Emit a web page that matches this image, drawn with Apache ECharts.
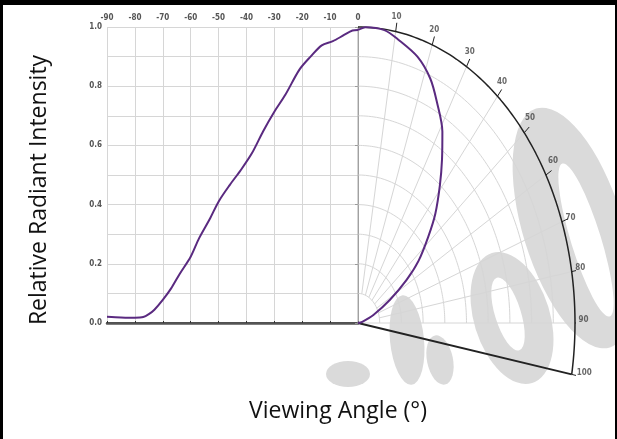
<!DOCTYPE html>
<html><head><meta charset="utf-8">
<script src="https://cdn.jsdelivr.net/npm/echarts@6/dist/echarts.min.js"></script>
<style>html,body{margin:0;padding:0;background:#fff}#c{width:617px;height:439px}</style>
</head><body><div id="c"></div>
<script>
// ---- data ----
const cartAngles = [-90, -85, -80, -77, -75, -73, -70, -67, -64, -60, -57, -53, -50, -46, -42, -38, -34, -30, -26, -21, -17, -13, -9, -5, -2, 0];
const cartValues = [0.021, 0.019, 0.018, 0.020, 0.030, 0.045, 0.078, 0.117, 0.165, 0.224, 0.286, 0.354, 0.410, 0.466, 0.517, 0.574, 0.648, 0.714, 0.772, 0.856, 0.900, 0.938, 0.952, 0.973, 0.988, 0.990];
const polarAngles = [0, 2, 7, 11, 17, 22, 26, 31, 35, 39, 44, 48, 53, 57, 62, 69, 78, 90];
const polarValues = [0.99, 1.0, 0.997, 0.975, 0.94, 0.89, 0.83, 0.755, 0.675, 0.60, 0.513, 0.436, 0.35, 0.267, 0.167, 0.076, 0.02, 0];
const xTickValues = [-90, -80, -70, -60, -50, -40, -30, -20, -10, 0];
const yTickValues = [0.0, 0.2, 0.4, 0.6, 0.8, 1.0];
const angleTickLabels = [10, 20, 30, 40, 50, 60, 70, 80, 90, 100];
const ringRadii = [0.1, 0.2, 0.3, 0.4, 0.5, 0.6, 0.7, 0.8, 0.9];
const spokeAngles = [10, 20, 30, 40, 50, 60, 70, 80];

const D = Math.PI / 180;
function pol(a, r) { return [r * Math.sin(a * D), r * Math.cos(a * D)]; }
function arc(r, a0, a1) { const p = []; for (let a = a0; a <= a1 + 1e-9; a += 1) p.push(pol(a, r)); return p; }

const series = [];
function seg(data, color, width, z) {
  series.push({ type: 'line', xAxisIndex: 2, yAxisIndex: 1, data: data, symbol: 'none', silent: true, clip: false,
    lineStyle: { color: color, width: width }, z: z, animation: false });
}
const GRID = '#d6d6d6';
ringRadii.forEach(r => seg(arc(r, 0, 90), GRID, 1, 1));
spokeAngles.forEach(a => seg([pol(a, 0.1), pol(a, 1)], GRID, 1, 1));
seg([pol(90, 0), pol(90, 1)], GRID, 1, 1);
seg([pol(0, 0), pol(0, 1)], '#aaaaaa', 1, 1);
seg(arc(1, 0, 100), '#222', 1.5, 3);
seg([pol(100, 0), pol(100, 1)], '#222', 2, 3);
angleTickLabels.forEach(a => seg([pol(a, 1), pol(a, 1.03)], '#222', 1, 3));

function labelOffset(a) {
  if (a === 100) return [13, -1];
  if (a >= 70) return [9, -3];
  return [a / 8, -14];
}
series.push({
  type: 'scatter', xAxisIndex: 2, yAxisIndex: 1, symbolSize: 1, silent: true, animation: false,
  itemStyle: { color: 'rgba(0,0,0,0)' },
  data: angleTickLabels.map(a => ({ value: pol(a, 1).concat([a]), label: { position: labelOffset(a) } })),
  label: { show: true, formatter: p => String(p.value[2]), align: 'center', verticalAlign: 'middle',
    color: '#444', fontSize: 8, fontWeight: 'bold', fontFamily: "'Liberation Sans Narrow','DejaVu Sans Condensed',sans-serif" },
  z: 4
});

const CURVE = '#5a2a80';
series.push({ type: 'line', xAxisIndex: 0, yAxisIndex: 0, data: cartAngles.map((a, i) => [a, cartValues[i]]),
  symbol: 'none', smooth: 0.3, lineStyle: { color: CURVE, width: 2 }, z: 5, animation: false, silent: true });
series.push({ type: 'line', xAxisIndex: 2, yAxisIndex: 1, data: polarAngles.map((a, i) => pol(a, polarValues[i])),
  symbol: 'none', smooth: 0.3, clip: false, lineStyle: { color: CURVE, width: 2 }, z: 5, animation: false, silent: true });

const tickFont = { color: '#555', fontSize: 8, fontWeight: 'bold', fontFamily: "'Liberation Sans Narrow','DejaVu Sans Condensed',sans-serif" };

function blob(cx, cy, rx, ry, rot, color) {
  return { type: 'circle', x: cx, y: cy, scaleX: rx, scaleY: ry, rotation: rot, shape: { cx: 0, cy: 0, r: 1 },
    style: { fill: color }, z: -10, silent: true };
}
const WM = '#dadada';

const option = {
  backgroundColor: '#fff',
  animation: false,
  grid: [
    { left: 107, top: 27, width: 251, height: 296 },
    { left: 358, top: 27, width: 217, height: 355.2 }
  ],
  xAxis: [
    { gridIndex: 0, type: 'value', position: 'top', min: xTickValues[0], max: xTickValues[xTickValues.length - 1], interval: 10,
      axisLine: { show: true, lineStyle: { color: '#444', width: 2 } },
      axisTick: { show: true, length: 2, lineStyle: { color: '#333' } },
      axisLabel: Object.assign({ margin: 5 }, tickFont),
      splitLine: { show: true, lineStyle: { color: GRID } } },
    { gridIndex: 0, type: 'value', position: 'bottom', min: -90, max: 0,
      axisLine: { show: true, onZero: false, lineStyle: { color: '#555', width: 2.5 } },
      axisTick: { show: false }, axisLabel: { show: false }, splitLine: { show: false } },
    { gridIndex: 1, type: 'value', min: 0, max: 1, show: false }
  ],
  yAxis: [
    { gridIndex: 0, type: 'value', min: yTickValues[0], max: yTickValues[yTickValues.length - 1], interval: 0.2,
      axisLine: { show: true, lineStyle: { color: '#999', width: 1 } },
      axisTick: { show: true, length: 3, lineStyle: { color: '#999' } },
      axisLabel: Object.assign({ margin: 5, formatter: v => v.toFixed(1) }, tickFont),
      splitLine: { show: true, lineStyle: { color: GRID } },
      minorTick: { show: false, splitNumber: 2 },
      minorSplitLine: { show: true, lineStyle: { color: GRID } } },
    { gridIndex: 1, type: 'value', min: -0.2, max: 1, show: false }
  ],
  graphic: [
    blob(573, 228, 50, 125, 0.3, WM),
    blob(586, 240, 15, 80, 0.3, '#fff'),
    blob(512, 318, 38, 68, 0.3, WM),
    blob(508, 314, 13, 38, 0.3, '#fff'),
    blob(407, 340, 17, 45, 0.1, WM),
    blob(440, 360, 13, 25, 0.2, WM),
    blob(348, 374, 22, 13, 0, WM),
    { type: 'rect', shape: { x: 0, y: 0, width: 617, height: 5 }, style: { fill: '#000' }, z: 100 },
    { type: 'rect', shape: { x: 0, y: 0, width: 3, height: 439 }, style: { fill: '#000' }, z: 100 },
    { type: 'rect', shape: { x: 615, y: 0, width: 2, height: 439 }, style: { fill: '#000' }, z: 100 },
    { type: 'text', x: 39, y: 190, rotation: Math.PI / 2, z: 100,
      style: { text: 'Relative Radiant Intensity', fontSize: 23, fontFamily: "'Open Sans',sans-serif", fill: '#111', align: 'center', verticalAlign: 'middle' } },
    { type: 'text', x: 338, y: 411, z: 100,
      style: { text: 'Viewing Angle (°)', fontSize: 23, fontFamily: "'Open Sans',sans-serif", fill: '#111', align: 'center', verticalAlign: 'middle' } }
  ],
  series: series
};
echarts.init(document.getElementById('c')).setOption(option);
</script></body></html>
